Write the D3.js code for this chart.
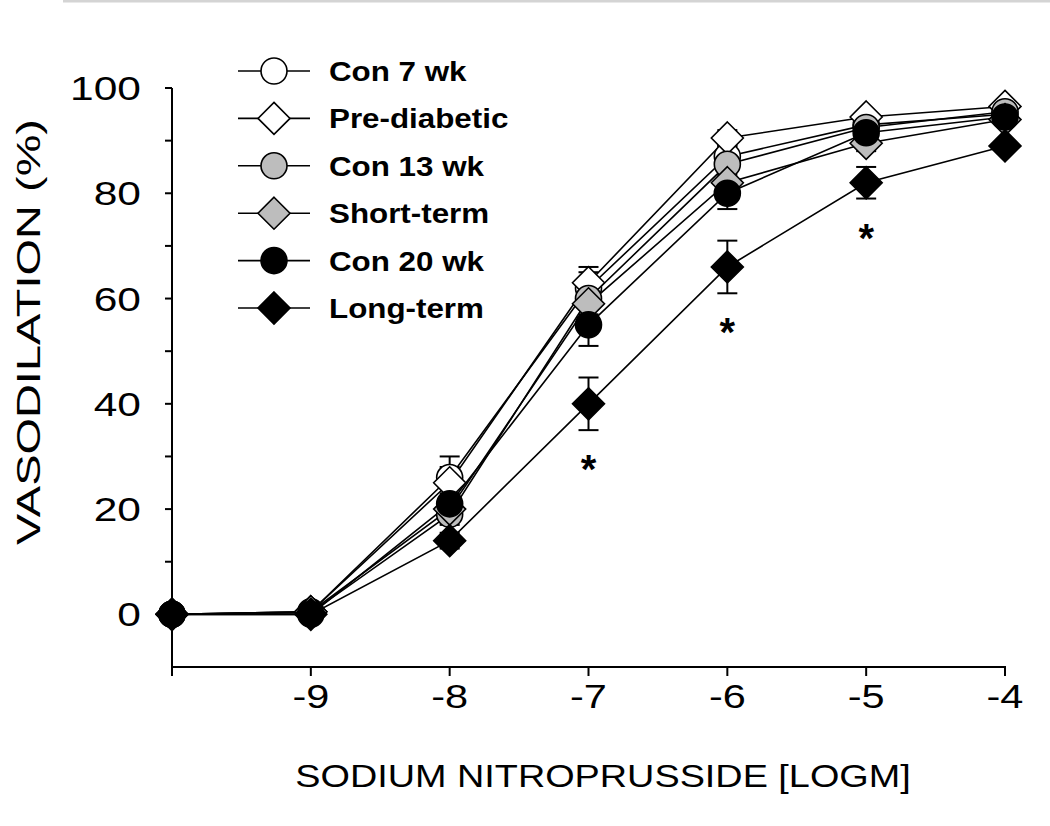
<!DOCTYPE html>
<html>
<head>
<meta charset="utf-8">
<script src="https://cdn.jsdelivr.net/npm/d3@7"></script>
<style>
  html, body { margin: 0; padding: 0; background: #fff; }
  svg { display: block; }
  text { font-family: "Liberation Sans", Arial, Helvetica, sans-serif; fill: #000; }
</style>
</head>
<body>
<svg id="chart" width="1050" height="826"></svg>
<script>
// ---- data ----
const doses = [-10, -9, -8, -7, -6, -5, -4];
const seriesNames = ["Con 7 wk", "Pre-diabetic", "Con 13 wk", "Short-term", "Con 20 wk", "Long-term"];
const con7 = [0, 0.5, 26, 62, 87, 93, 95];
const con7Err = [0, 0.5, 4, 3, 2, 1, 1];
const preDiabetic = [0, 0.5, 25, 63, 90.5, 94.5, 96.5];
const preDiabeticErr = [0, 0.5, 3, 3, 1.5, 1, 1];
const con13 = [0, 0.3, 19, 60, 85.5, 92.5, 95.5];
const con13Err = [0, 0.5, 2, 2, 2, 1, 1];
const shortTerm = [0, 0.5, 20, 59, 82, 89.5, 94];
const shortTermErr = [0, 0.5, 2, 2, 2, 1.5, 1];
const con20 = [0, 0, 21, 55, 80, 91.5, 94.5];
const con20Err = [0, 0.5, 2, 4, 3, 1.5, 1];
const longTerm = [0, 0, 14, 40, 66, 82, 89];
const longTermErr = [0, 0.5, 1.5, 5, 5, 3, 1];
const xTickValues = [-9, -8, -7, -6, -5, -4];
const yTickLabels = [0, 20, 40, 60, 80, 100];
const sigDoses = [-7, -6, -5];   // asterisks on Long-term
const xTitle = "SODIUM NITROPRUSSIDE [LOGM]";
const yTitle = "VASODILATION (%)";

// ---- styles per series ----
const shapes = ["circle", "diamond", "circle", "diamond", "circle", "diamond"];
const fills = ["#ffffff", "#ffffff", "#bdbdbd", "#bdbdbd", "#000000", "#000000"];
const values = [con7, preDiabetic, con13, shortTerm, con20, longTerm];
const errors = [con7Err, preDiabeticErr, con13Err, shortTermErr, con20Err, longTermErr];

const svg = d3.select("#chart");

// faint top rule
svg.append("rect").attr("x", 63).attr("y", 0).attr("width", 987).attr("height", 2.5).attr("fill", "#d4d4d4");

const x = d3.scaleLinear().domain([-10, -4]).range([172, 1005]);
const y = d3.scaleLinear().domain([-10, 100]).range([667, 88]);

// ---- axes ----
const axisG = svg.append("g").attr("stroke", "#000").attr("stroke-width", 2);
axisG.append("line").attr("x1", x(-10)).attr("x2", x(-10)).attr("y1", y(100)).attr("y2", y(-10) + 9);
axisG.append("line").attr("x1", x(-10)).attr("x2", x(-4) + 1).attr("y1", y(-10)).attr("y2", y(-10));
d3.range(-10, -3).forEach(v => {
  axisG.append("line").attr("x1", x(v)).attr("x2", x(v)).attr("y1", y(-10)).attr("y2", y(-10) + 9);
});
d3.range(0, 101, 10).forEach(v => {
  axisG.append("line").attr("x1", x(-10) - 7).attr("x2", x(-10)).attr("y1", y(v)).attr("y2", y(v));
});

function stretchedText(g, str, tx, ty, size, sx, anchor, weight) {
  return g.append("text")
    .attr("transform", `translate(${tx},${ty}) scale(${sx},1)`)
    .attr("text-anchor", anchor)
    .attr("font-size", size)
    .attr("font-weight", weight || "normal")
    .text(str);
}

yTickLabels.forEach(v => {
  stretchedText(svg, String(v), 141, y(v) + 12, 34, 1.25, "end");
});
xTickValues.forEach(v => {
  stretchedText(svg, String(v), x(v), 708, 34, 1.22, "middle");
});

// axis titles
stretchedText(svg, xTitle, 603, 787, 31, 1.22, "middle");
svg.append("text")
  .attr("transform", `translate(40,332) rotate(-90)`)
  .attr("text-anchor", "middle")
  .attr("font-size", 33)
  .attr("textLength", 426)
  .attr("lengthAdjust", "spacingAndGlyphs")
  .text(yTitle);

// ---- marks ----
const R = 13, D = 16;
function drawMarker(g, shape, cx, cy, fill) {
  if (shape === "circle") {
    g.append("circle").attr("cx", cx).attr("cy", cy).attr("r", R)
      .attr("fill", fill).attr("stroke", "#000").attr("stroke-width", 1.6);
  } else {
    g.append("path")
      .attr("d", `M${cx},${cy - D}L${cx + D},${cy}L${cx},${cy + D}L${cx - D},${cy}Z`)
      .attr("fill", fill).attr("stroke", "#000").attr("stroke-width", 1.6);
  }
}

const line = d3.line().x(d => x(d[0])).y(d => y(d[1]));
const linesG = svg.append("g");
values.forEach(vals => {
  linesG.append("path")
    .attr("d", line(doses.map((d, i) => [d, vals[i]])))
    .attr("fill", "none").attr("stroke", "#000").attr("stroke-width", 1.6);
});

const errG = svg.append("g").attr("stroke", "#000").attr("stroke-width", 2);
const markG = svg.append("g");
values.forEach((vals, s) => {
  doses.forEach((d, i) => {
    const e = errors[s][i];
    if (e > 0) {
      const cx = x(d), y1 = y(vals[i] + e), y2 = y(vals[i] - e);
      errG.append("line").attr("x1", cx).attr("x2", cx).attr("y1", y1).attr("y2", y2);
      errG.append("line").attr("x1", cx - 10).attr("x2", cx + 10).attr("y1", y1).attr("y2", y1);
      errG.append("line").attr("x1", cx - 10).attr("x2", cx + 10).attr("y1", y2).attr("y2", y2);
    }
  });
});
values.forEach((vals, s) => {
  doses.forEach((d, i) => drawMarker(markG, shapes[s], x(d), y(vals[i]), fills[s]));
});

// significance asterisks under Long-term
sigDoses.forEach(d => {
  const i = doses.indexOf(d);
  const bottom = y(longTerm[i] - longTermErr[i]);
  svg.append("text")
    .attr("x", x(d)).attr("y", bottom + 53)
    .attr("text-anchor", "middle").attr("font-size", 40).attr("font-weight", "bold")
    .text("*");
});

// ---- legend ----
const legG = svg.append("g");
seriesNames.forEach((name, i) => {
  const cy = 71 + i * 47.4;
  legG.append("line").attr("x1", 238).attr("x2", 310).attr("y1", cy).attr("y2", cy)
    .attr("stroke", "#000").attr("stroke-width", 1.6);
  drawMarker(legG, shapes[i], 274, cy, fills[i]);
  stretchedText(legG, name, 329, cy + 10, 28.5, 1.1, "start", "bold");
});
</script>
</body>
</html>
